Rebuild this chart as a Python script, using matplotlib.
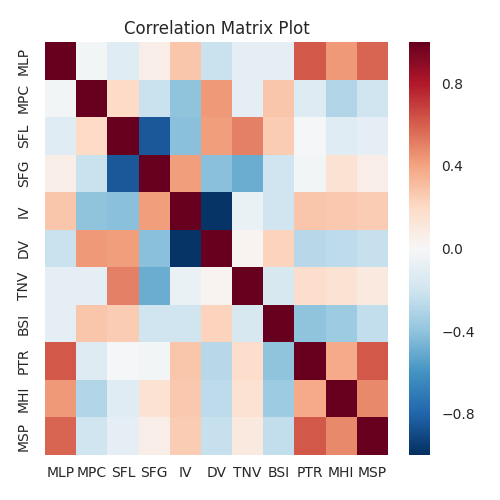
import numpy as np
import matplotlib
matplotlib.use("Agg")
import matplotlib.pyplot as plt
import seaborn as sns

labels = ["MLP", "MPC", "SFL", "SFG", "IV", "DV", "TNV", "BSI", "PTR", "MHI", "MSP"]

row_MLP = [1.00, -0.03, -0.12, 0.07, 0.28, -0.22, -0.10, -0.10, 0.62, 0.43, 0.58]
row_MPC = [-0.03, 1.00, 0.20, -0.22, -0.40, 0.43, -0.10, 0.28, -0.13, -0.30, -0.20]
row_SFL = [-0.12, 0.20, 1.00, -0.85, -0.42, 0.42, 0.50, 0.25, -0.01, -0.12, -0.10]
row_SFG = [0.07, -0.22, -0.85, 1.00, 0.42, -0.42, -0.50, -0.20, -0.03, 0.15, 0.07]
row_IV = [0.28, -0.40, -0.42, 0.42, 1.00, -0.98, -0.07, -0.20, 0.28, 0.27, 0.25]
row_DV = [-0.22, 0.43, 0.42, -0.42, -0.98, 1.00, 0.03, 0.23, -0.28, -0.26, -0.23]
row_TNV = [-0.10, -0.10, 0.50, -0.50, -0.07, 0.03, 1.00, -0.17, 0.18, 0.15, 0.10]
row_BSI = [-0.10, 0.28, 0.25, -0.20, -0.20, 0.23, -0.17, 1.00, -0.40, -0.36, -0.25]
row_PTR = [0.62, -0.13, -0.01, -0.03, 0.28, -0.28, 0.18, -0.40, 1.00, 0.38, 0.62]
row_MHI = [0.43, -0.30, -0.12, 0.15, 0.27, -0.26, 0.15, -0.36, 0.38, 1.00, 0.48]
row_MSP = [0.58, -0.20, -0.10, 0.07, 0.25, -0.23, 0.10, -0.25, 0.62, 0.48, 1.00]

corr = np.array([row_MLP, row_MPC, row_SFL, row_SFG, row_IV, row_DV,
                 row_TNV, row_BSI, row_PTR, row_MHI, row_MSP])

sns.set_style("darkgrid")
plt.rcParams['font.family'] = ['DejaVu Sans']

fig = plt.figure(figsize=(5, 5), dpi=100)
ax = fig.add_axes([45/500, 45/500, 343/500, 413/500])
cax = fig.add_axes([409/500, 45/500, 21/500, 413/500])

sns.heatmap(corr, ax=ax, cbar_ax=cax, cmap="RdBu_r", vmin=-1, vmax=1,
            xticklabels=labels, yticklabels=labels)
ax.grid(False)
ax.tick_params(axis='both', length=0, labelsize=10, colors='#262626')
ax.tick_params(axis='y', pad=10)
ax.tick_params(axis='x', pad=8)
plt.setp(ax.get_yticklabels(), rotation=90, va='center')
plt.setp(ax.get_xticklabels(), rotation=0)
ax.set_title("Correlation Matrix Plot", fontsize=12, color='#262626')

cax.tick_params(length=0, labelsize=10, colors='#262626', pad=8)
cax.set_yticks([-0.8, -0.4, 0.0, 0.4, 0.8])
cax.grid(False)
for s in cax.spines.values():
    s.set_visible(False)

fig.savefig("out.png", dpi=100)
